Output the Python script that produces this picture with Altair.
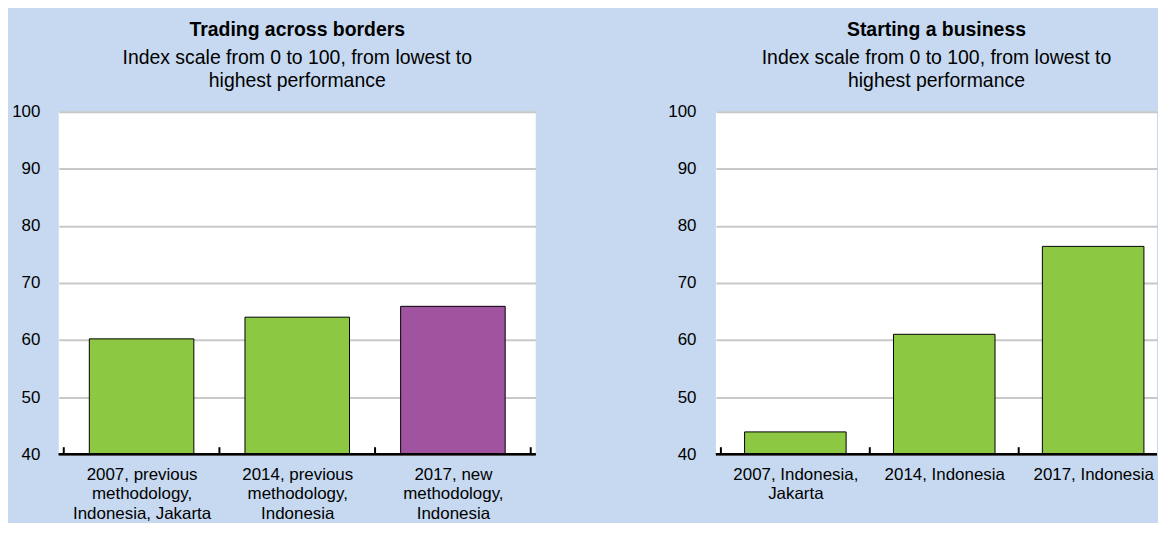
import json
import altair as alt
import pandas as pd

# ---- data ----
left_categories = [
    "2007, previous|methodology,|Indonesia, Jakarta",
    "2014, previous|methodology,|Indonesia",
    "2017, new|methodology,|Indonesia",
]
left_values = [60.2, 64.0, 65.9]
left_groups = ["previous", "previous", "new"]

right_categories = [
    "2007, Indonesia,|Jakarta",
    "2014, Indonesia",
    "2017, Indonesia",
]
right_values = [43.9, 61.0, 76.4]
right_groups = ["previous", "previous", "previous"]

y_ticks = [40, 50, 60, 70, 80, 90, 100]
subtitle_lines = ["Index scale from 0 to 100, from lowest to", "highest performance"]

FONT = "Liberation Sans, Arial, sans-serif"
GREEN = "#8CC841"
PURPLE = "#A0539F"
BG = "#C6D9F0"
H = 344


def panel(cats, vals, groups, title, width, slots, bar_w, y_extent, y_label_pad, end_tick=True):
    n = len(cats)
    df = pd.DataFrame({"idx": list(range(n)), "value": vals, "group": groups})
    label_expr = "split(" + json.dumps(cats) + "[datum.value], '|')"
    x_scale = alt.Scale(domain=[-0.5, -0.5 + slots], nice=False, zero=False)
    y_scale = alt.Scale(domain=[40, 100], nice=False, zero=False)
    base = alt.Chart(df)
    bars = base.mark_bar(width=bar_w, stroke="black", strokeWidth=1).encode(
        x=alt.X(
            "idx:Q",
            scale=x_scale,
            title=None,
            axis=alt.Axis(
                values=list(range(n)),
                labelAngle=0,
                labelExpr=label_expr,
                labelFont=FONT,
                labelFontSize=17,
                labelColor="black",
                labelLineHeight=20,
                labelPadding=12,
                labelLimit=300,
                labelBaseline="top",
                labelFlush=False,
                labelOverlap=False,
                ticks=False,
                domain=False,
                grid=False,
            ),
        ),
        y=alt.Y(
            "value:Q",
            scale=y_scale,
            title=None,
            axis=alt.Axis(
                values=y_ticks,
                grid=True,
                gridColor="#C8C8C8",
                gridWidth=2,
                domain=False,
                ticks=False,
                labelFont=FONT,
                labelFontSize=17,
                labelColor="black",
                labelPadding=y_label_pad,
                minExtent=y_extent,
                maxExtent=y_extent,
            ),
        ),
        y2=alt.datum(40),
        color=alt.Color(
            "group:N",
            scale=alt.Scale(domain=["previous", "new"], range=[GREEN, PURPLE]),
            legend=None,
        ),
    )
    axis_line = base.mark_rule(color="black", strokeWidth=2).encode(y=alt.datum(40))
    ticks_start = (
        base.transform_calculate(edge="datum.idx - 0.5")
        .mark_rule(color="black", strokeWidth=2)
        .encode(
            x=alt.X("edge:Q", scale=x_scale),
            y=alt.value(H),
            y2=alt.value(H - 7),
        )
    )
    layers = [bars, axis_line, ticks_start]
    if end_tick:
        ticks_end = (
            base.transform_filter(alt.datum.idx == n - 1)
            .transform_calculate(edge="datum.idx + 0.5")
            .mark_rule(color="black", strokeWidth=2)
            .encode(
                x=alt.X("edge:Q", scale=x_scale),
                y=alt.value(H),
                y2=alt.value(H - 7),
            )
        )
        layers.append(ticks_end)
    return alt.layer(*layers).properties(
        width=width,
        height=H,
        title=alt.TitleParams(
            text=title,
            subtitle=subtitle_lines,
            font=FONT,
            fontSize=19.5,
            fontWeight="bold",
            color="black",
            subtitleFont=FONT,
            subtitleFontSize=19.5,
            subtitleColor="black",
            subtitleLineHeight=23.5,
            subtitlePadding=9,
            anchor="middle",
            frame="group",
            offset=11,
        ),
    )


left = panel(left_categories, left_values, left_groups, "Trading across borders",
             479, 3, 105, 51, 19)
# right panel is cut by the picture's edge: slots of 153 px over a 443 px plot
right = panel(right_categories, right_values, right_groups, "Starting a business",
              443, 443 / 153, 102, 45, 20, end_tick=False)

chart = (
    alt.hconcat(left, right, spacing=131)
    .properties(padding={"left": 0, "top": 10, "right": 0, "bottom": 0})
    .configure(background=BG)
    .configure_view(fill="white", stroke=None)
)

chart.save("out.html", embed_options={"renderer": "svg", "actions": False})
